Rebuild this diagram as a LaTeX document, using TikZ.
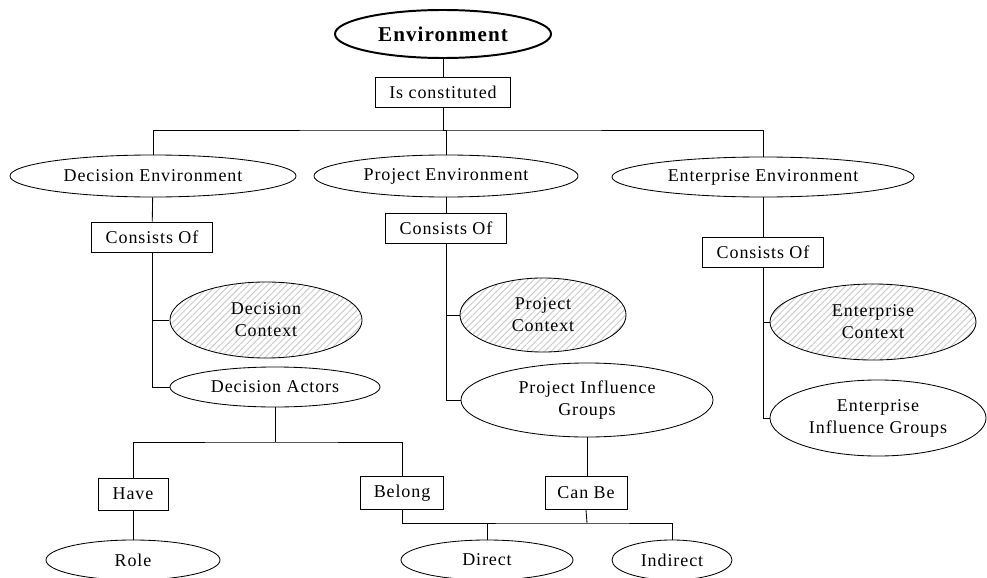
\documentclass[tikz,border=0pt]{standalone}
\usepackage{fontspec}
\setmainfont{Liberation Serif}[LetterSpace=5]
\usepackage{tikz}
\usetikzlibrary{shapes.geometric,patterns.meta}

\tikzset{
  concept/.style={ellipse, draw, line width=0.6pt, inner sep=0pt, align=center},
  context/.style={concept, pattern={Lines[angle=45, distance=3.2pt, line width=0.7pt]}, pattern color=gray!40},
  relation/.style={rectangle, draw, line width=0.6pt, inner sep=0pt},
  link/.style={line width=0.6pt}
}

\begin{document}
\begin{tikzpicture}[x=0.025cm, y=-0.025cm, font=\fontsize{12.8}{15.6}\selectfont]

\useasboundingbox (0,0) rectangle (987,578);

% Root and first relation
\node[concept, line width=1.4pt, minimum width=5.4cm, minimum height=1.2cm,
      font=\fontsize{15}{16}\selectfont\bfseries] (env) at (443,34) {Environment};
\node[relation, minimum width=3.375cm, minimum height=0.75cm] (isc) at (443,92) {Is constituted};

% The three environments
\node[concept, minimum width=7.15cm, minimum height=1.05cm] (decenv) at (153,176) {Decision Environment};
\node[concept, minimum width=6.6cm, minimum height=1.05cm] (prjenv) at (446,176) {Project Environment};
\node[concept, minimum width=7.55cm, minimum height=1cm] (entenv) at (763,177) {Enterprise Environment};

% Consists Of boxes
\node[relation, minimum width=3.025cm, minimum height=0.75cm] (deccons) at (152,237) {Consists Of};
\node[relation, minimum width=3.025cm, minimum height=0.75cm] (prjcons) at (446,228) {Consists Of};
\node[relation, minimum width=3.025cm, minimum height=0.75cm] (entcons) at (763,252) {Consists Of};

% Decision branch
\node[context, minimum width=4.8cm, minimum height=1.9cm] (decctx) at (266,320) {Decision\\Context};
\node[concept, minimum width=5.25cm, minimum height=1cm] (decact) at (275,387) {Decision Actors};

% Project branch
\node[context, minimum width=4.15cm, minimum height=1.85cm] (prjctx) at (543,315) {Project\\Context};
\node[concept, minimum width=6.3cm, minimum height=1.85cm] (prjinf) at (587,400) {Project Influence\\Groups};

% Enterprise branch
\node[context, minimum width=5.15cm, minimum height=1.9cm] (entctx) at (873,322) {Enterprise\\Context};
\node[concept, minimum width=5.4cm, minimum height=1.9cm] (entinf) at (878,418) {Enterprise\\Influence Groups};

% Lower relations
\node[relation, minimum width=1.75cm, minimum height=0.8cm] (have) at (133,494) {Have};
\node[relation, minimum width=2.075cm, minimum height=0.825cm] (belong) at (402,493) {Belong};
\node[relation, minimum width=2.05cm, minimum height=0.825cm] (canbe) at (586,493) {Can Be};

% Leaves
\node[concept, minimum width=4.35cm, minimum height=1cm] (role) at (133,560) {Role};
\node[concept, minimum width=4.3cm, minimum height=1cm] (direct) at (487,560) {Direct};
\node[concept, minimum width=3cm, minimum height=1cm] (indirect) at (672,560) {Indirect};

% Bus points
\coordinate (envbus) at (443,130);
\coordinate (actbus) at (275,442);
\coordinate (kindbus) at (587,523);

% Connectors
\draw[link] (env) -- (isc);
\draw[link] (isc) -- (envbus);
\draw[link] (decenv.north) |- (envbus) -| (entenv.north);
\draw[link] (prjenv.north) |- (envbus);

\draw[link] (decenv) -- (deccons);
\draw[link] (prjenv) -- (prjcons);
\draw[link] (entenv) -- (entcons);

\draw[link] (deccons.south) |- (decctx.west);
\draw[link] (deccons.south) |- (decact.west);
\draw[link] (prjcons.south) |- (prjctx.west);
\draw[link] (prjcons.south) |- (prjinf.west);
\draw[link] (entcons.south) |- (entctx.west);
\draw[link] (entcons.south) |- (entinf.west);

\draw[link] (decact.south) -- (actbus);
\draw[link] (have.north) |- (actbus) -| (belong.north);
\draw[link] (have) -- (role);

\draw[link] (prjinf.south) -- (prjinf.south |- canbe.north);
\draw[link] (canbe.south) -- (kindbus);
\draw[link] (belong.south) |- (kindbus) -| (indirect.north);
\draw[link] (direct.north) -- (direct.north |- kindbus);

\end{tikzpicture}
\end{document}
